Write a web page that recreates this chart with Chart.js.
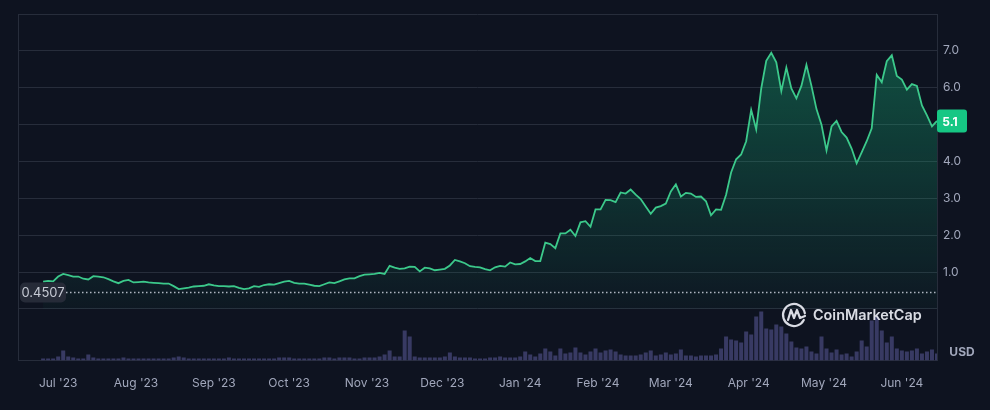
<!DOCTYPE html>
<html>
<head>
<meta charset="utf-8">
<script src="https://cdn.jsdelivr.net/npm/chart.js@4.4.1/dist/chart.umd.min.js"></script>
<style>
  html, body { margin: 0; padding: 0; background: #0e1320; }
  #wrap { width: 990px; height: 410px; position: relative; }
</style>
</head>
<body>
<div id="wrap"><canvas id="priceChart"></canvas></div>
<script>
// one sample every 2 days starting 25 Jun 2023
const firstDate = '2023-06-25';
const stepDays = 2;

const prices = [
  0.74, 0.76, 0.75, 0.88, 0.95, 0.92, 0.88, 0.88, 0.82, 0.80,
  0.89, 0.88, 0.86, 0.81, 0.75, 0.70, 0.76, 0.79, 0.72, 0.73,
  0.74, 0.72, 0.71, 0.70, 0.69, 0.69, 0.62, 0.54, 0.56, 0.58,
  0.61, 0.62, 0.63, 0.67, 0.64, 0.62, 0.62, 0.61, 0.62, 0.57,
  0.54, 0.56, 0.62, 0.60, 0.65, 0.67, 0.66, 0.70, 0.74, 0.76,
  0.71, 0.69, 0.69, 0.66, 0.63, 0.62, 0.67, 0.72, 0.70, 0.75,
  0.80, 0.83, 0.83, 0.89, 0.93, 0.94, 0.95, 0.98, 0.95, 1.17,
  1.12, 1.09, 1.10, 1.15, 1.14, 1.02, 1.12, 1.10, 1.05, 1.07,
  1.09, 1.18, 1.33, 1.29, 1.24, 1.16, 1.14, 1.13, 1.08, 1.05,
  1.13, 1.17, 1.15, 1.26, 1.21, 1.22, 1.29, 1.38, 1.30, 1.30,
  1.80, 1.76, 1.65, 2.05, 2.05, 2.15, 1.98, 2.35, 2.38, 2.23,
  2.70, 2.70, 2.96, 2.95, 2.90, 3.16, 3.13, 3.24, 3.10, 2.98,
  2.78, 2.58, 2.75, 2.79, 2.86, 3.19, 3.38, 3.05, 3.15, 3.13,
  3.04, 3.05, 2.92, 2.54, 2.70, 2.69, 3.10, 3.70, 4.06, 4.19,
  4.55, 5.40, 4.87, 5.98, 6.73, 6.95, 6.69, 5.91, 6.55, 5.98,
  5.71, 6.05, 6.62, 6.05, 5.42, 5.00, 4.30, 4.95, 5.10, 4.80,
  4.65, 4.35, 3.95, 4.25, 4.55, 4.90, 6.35, 6.15, 6.72, 6.88,
  6.32, 6.22, 5.95, 6.10, 6.05, 5.52, 5.25, 4.95, 5.10
];

// relative 24h volume
const volumes = [
  2, 2, 2, 4, 10, 4, 3, 2, 2, 6,
  3, 2, 2, 2, 2, 2, 3, 2, 2, 2,
  2, 2, 2, 2, 2, 2, 3, 4, 3, 2,
  2, 2, 2, 2, 2, 2, 2, 3, 2, 2,
  2, 2, 2, 2, 2, 2, 2, 3, 3, 3,
  2, 2, 2, 2, 2, 2, 3, 3, 2, 3,
  3, 3, 2, 2, 3, 3, 3, 4, 6, 10,
  4, 4, 30, 24, 4, 3, 3, 3, 3, 3,
  4, 8, 4, 3, 3, 3, 2, 2, 2, 3,
  3, 4, 3, 3, 3, 4, 9, 6, 4, 7,
  12, 9, 5, 12, 7, 8, 13, 8, 6, 9,
  12, 8, 10, 11, 9, 6, 5, 5, 5, 6,
  8, 10, 5, 6, 8, 6, 7, 11, 5, 5,
  4, 5, 5, 5, 6, 12, 24, 21, 20, 18,
  29, 26, 44, 49, 32, 31, 36, 34, 27, 19,
  13, 12, 14, 9, 7, 24, 12, 8, 11, 6,
  7, 4, 9, 20, 14, 40, 44, 30, 18, 24,
  12, 10, 9, 10, 12, 7, 9, 11, 7
];

const monthLabels = ["Jul '23", "Aug '23", "Sep '23", "Oct '23", "Nov '23", "Dec '23",
                     "Jan '24", "Feb '24", "Mar '24", "Apr '24", "May '24", "Jun '24"];
const priceGrid = [0, 1, 2, 3, 4, 5, 6, 7, 8];
const refPrice = 0.4507;
const lastPrice = 5.1;

const gridColor = '#272d3b';
const textColor = '#a1a7bb';
const green = '#3cc98b';

// day numbers counted from 1 Jul 2023
const DAY = 86400000;
const base = Date.UTC(2023, 6, 1);
const firstDay = (Date.parse(firstDate) - base) / DAY;
const sampleDays = prices.map((p, i) => firstDay + i * stepDays);
const monthDays = monthLabels.map((m, k) => (Date.UTC(2023, 6 + k, 1) - base) / DAY);

const priceData = prices.map((p, i) => ({ x: sampleDays[i], y: p }));
const volumeData = volumes.map((v, i) => ({ x: sampleDays[i], y: v }));

const overlays = {
  id: 'overlays',
  beforeDatasetsDraw(chart) {
    const { ctx, chartArea } = chart;
    ctx.save();
    ctx.strokeStyle = gridColor;
    ctx.lineWidth = 1;
    ctx.beginPath();
    ctx.moveTo(chartArea.left + 0.5, chartArea.top);
    ctx.lineTo(chartArea.left + 0.5, chartArea.bottom);
    ctx.stroke();
    ctx.restore();
  },
  afterDatasetsDraw(chart) {
    const { ctx, chartArea, scales } = chart;
    const y = scales.y;
    ctx.save();

    // dotted reference line + left badge
    const ry = Math.round(y.getPixelForValue(refPrice)) + 0.5;
    ctx.strokeStyle = 'rgba(205,210,222,0.85)';
    ctx.lineWidth = 1.5;
    ctx.setLineDash([1.5, 2.5]);
    ctx.beginPath();
    ctx.moveTo(chartArea.left + 48, ry);
    ctx.lineTo(chartArea.right, ry);
    ctx.stroke();
    ctx.setLineDash([]);

    ctx.fillStyle = '#262b38';
    ctx.beginPath();
    ctx.roundRect(chartArea.left + 2, ry - 10, 46, 20, 5);
    ctx.fill();
    ctx.fillStyle = '#c6cad4';
    ctx.font = '13px Inter';
    ctx.textAlign = 'center';
    ctx.textBaseline = 'middle';
    ctx.fillText(refPrice.toString(), chartArea.left + 25, ry + 1);

    // last price badge on the right axis
    const ly = y.getPixelForValue(lastPrice);
    ctx.fillStyle = '#16c784';
    ctx.beginPath();
    ctx.roundRect(chartArea.right, ly - 11.5, 30, 23, 3);
    ctx.fill();
    ctx.fillStyle = '#ffffff';
    ctx.font = 'bold 12px Inter';
    ctx.fillText(lastPrice.toFixed(1), chartArea.right + 13, ly + 1);

    // currency label
    ctx.fillStyle = textColor;
    ctx.font = 'bold 12px Inter';
    ctx.fillText('USD', chartArea.right + 25, chartArea.bottom - 8);

    // watermark
    const cx = 794, cy = 315;
    ctx.strokeStyle = 'rgba(235,238,245,0.92)';
    ctx.lineWidth = 2.2;
    ctx.lineJoin = 'round';
    ctx.lineCap = 'round';
    ctx.beginPath();
    ctx.arc(cx, cy, 11, Math.PI * 0.15, Math.PI * 1.95);
    ctx.stroke();
    ctx.beginPath();
    ctx.moveTo(cx - 6, cy + 5);
    ctx.lineTo(cx - 3, cy - 5);
    ctx.lineTo(cx, cy + 3);
    ctx.lineTo(cx + 3, cy - 5);
    ctx.lineTo(cx + 6, cy + 3);
    ctx.lineTo(cx + 11, cy + 1);
    ctx.stroke();
    ctx.fillStyle = 'rgba(235,238,245,0.92)';
    ctx.textAlign = 'left';
    let size = 16;
    ctx.font = '600 ' + size + 'px Inter';
    size = size * 109 / ctx.measureText('CoinMarketCap').width;
    ctx.font = '600 ' + size.toFixed(1) + 'px Inter';
    ctx.fillText('CoinMarketCap', 813, cy + 1);

    ctx.restore();
  }
};

const ctxPrice = document.getElementById('priceChart');

new Chart(ctxPrice, {
  type: 'bar',
  data: {
    datasets: [{
      type: 'line',
      label: 'Price',
      data: priceData,
      yAxisID: 'y',
      borderColor: green,
      borderWidth: 1.8,
      pointRadius: 0,
      tension: 0,
      fill: 'origin',
      backgroundColor: function(context) {
        const chart = context.chart;
        const area = chart.chartArea;
        if (!area) return 'rgba(22,199,132,0.2)';
        const y0 = chart.scales.y.getPixelForValue(0);
        const g = chart.ctx.createLinearGradient(0, area.top + 30, 0, y0);
        g.addColorStop(0, 'rgba(22,199,132,0.34)');
        g.addColorStop(1, 'rgba(22,199,132,0.03)');
        return g;
      },
      order: 1
    }, {
      type: 'bar',
      label: 'Volume',
      data: volumeData,
      yAxisID: 'yVol',
      backgroundColor: '#383a63',
      barPercentage: 0.8,
      categoryPercentage: 1,
      order: 2
    }]
  },
  options: {
    responsive: true,
    maintainAspectRatio: false,
    animation: false,
    layout: {
      padding: { left: 18, top: 14, right: 0, bottom: 3 }
    },
    plugins: {
      legend: { display: false },
      tooltip: { enabled: false }
    },
    scales: {
      x: {
        type: 'linear',
        min: -16,
        max: 350,
        offset: false,
        grid: { color: 'transparent', drawTicks: false },
        border: { color: gridColor },
        afterBuildTicks: function(scale) {
          scale.ticks = monthDays.map(d => ({ value: d }));
        },
        ticks: {
          autoSkip: false,
          maxRotation: 0,
          padding: 16,
          color: textColor,
          font: { family: 'Inter', size: 12 },
          callback: function(value, index) {
            return monthLabels[index];
          }
        }
      },
      y: {
        position: 'right',
        min: -1.4,
        max: 8,
        grid: { color: gridColor, drawTicks: false },
        border: { color: gridColor },
        afterBuildTicks: function(scale) {
          scale.ticks = priceGrid.map(v => ({ value: v }));
        },
        afterFit: function(scale) {
          scale.width = 53;
        },
        ticks: {
          padding: 6,
          color: textColor,
          font: { family: 'Inter', size: 12 },
          callback: function(value) {
            return (value >= 1 && value <= 7) ? value.toFixed(1) : '';
          }
        }
      },
      yVol: {
        display: false,
        position: 'left',
        min: 0,
        max: 346
      }
    }
  },
  plugins: [overlays]
});
</script>
</body>
</html>
